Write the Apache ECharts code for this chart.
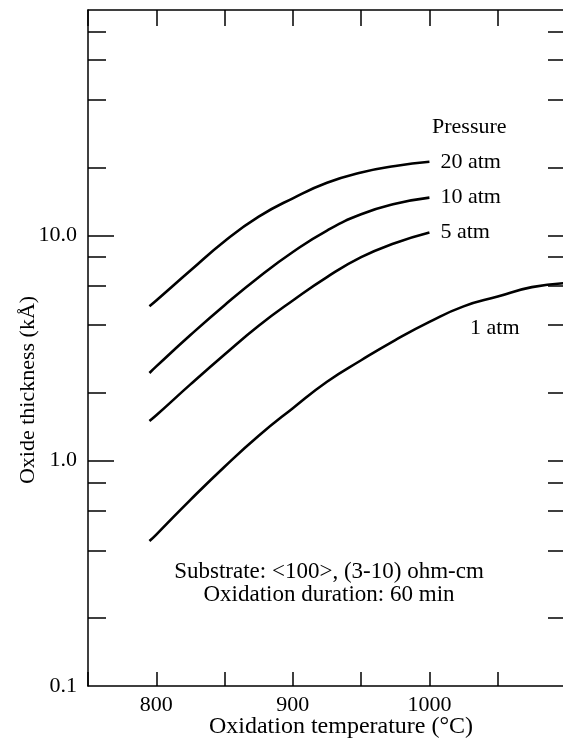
<!DOCTYPE html>
<html>
<head>
<meta charset="utf-8">
<script src="https://cdn.jsdelivr.net/npm/echarts@6/dist/echarts.min.js"></script>
<style>
  html, body { margin: 0; padding: 0; background: #fff; }
  #main { width: 563px; height: 739px; }
</style>
</head>
<body>
<div id="main"></div>
<script>
// temperatures (°C) where the curves were read
var temps = [795, 800, 825, 850, 875, 900, 925, 950, 975, 1000];
var tempsLong = [795, 800, 825, 850, 875, 900, 925, 950, 975, 1000, 1025, 1050, 1075, 1100];

// oxide thickness (kA) per pressure
var atm20 = [4.85, 5.14, 6.98, 9.42, 12.1, 14.6, 17.1, 19.0, 20.3, 21.2];
var atm10 = [2.45, 2.62, 3.61, 4.90, 6.52, 8.43, 10.5, 12.4, 13.8, 14.7];
var atm5 = [1.50, 1.59, 2.18, 2.96, 3.97, 5.14, 6.53, 8.0, 9.25, 10.3];
var atm1 = [0.44, 0.47, 0.67, 0.94, 1.29, 1.71, 2.24, 2.79, 3.43, 4.13, 4.84, 5.35, 5.89, 6.14];

// axis ticks
var xLabels = [800, 900, 1000];
var yMajor = [0.1, 1, 10];
var yMinor = [0.2, 0.4, 0.6, 0.8, 2, 4, 6, 8, 20, 40, 60, 80];
var yAll = [0.2, 0.4, 0.6, 0.8, 1, 2, 4, 6, 8, 10, 20, 40, 60, 80];

var font = 'Liberation Serif';

function pairs(xs, ys) {
    var rs = [];
    for (var i = 0; i < ys.length; i++) {
        rs.push([xs[i], ys[i]]);
    }
    return rs;
}

function curve(name, xs, ys, withLabel) {
    return {
        name: name,
        type: 'line',
        xAxisIndex: 0,
        yAxisIndex: 0,
        smooth: 0.5,
        showSymbol: false,
        lineStyle: { color: '#000', width: 2.6 },
        endLabel: {
            show: withLabel,
            formatter: '{a}',
            distance: 11,
            color: '#000',
            fontFamily: font,
            fontSize: 22
        },
        data: pairs(xs, ys)
    };
}

function txt(x, y, s, size, align, rot) {
    return {
        type: 'text',
        x: x,
        y: y,
        rotation: rot || 0,
        style: {
            text: s,
            fill: '#000',
            font: size + 'px "Liberation Serif"',
            align: align,
            verticalAlign: 'middle',
            lineHeight: 23
        }
    };
}

var chart = echarts.init(document.getElementById('main'));
chart.setOption({
    animation: false,
    backgroundColor: '#fff',
    grid: { left: 88, top: 10, right: -3, bottom: 53, containLabel: false, outerBoundsMode: 'none' },
    xAxis: [{
        type: 'value',
        position: 'bottom',
        min: 750,
        max: 1100,
        interval: 50,
        axisLine: { lineStyle: { color: '#000', width: 1.5 } },
        axisTick: { inside: true, length: 14, lineStyle: { color: '#000', width: 1.5 } },
        axisLabel: {
            color: '#000', fontFamily: font, fontSize: 22, margin: 8,
            formatter: function (v) { return xLabels.indexOf(v) >= 0 ? String(v) : ''; }
        },
        splitLine: { show: false }
    }, {
        type: 'value',
        position: 'top',
        min: 750,
        max: 1100,
        interval: 50,
        axisLine: { lineStyle: { color: '#000', width: 1.5 } },
        axisTick: { inside: true, length: 16, lineStyle: { color: '#000', width: 1.5 } },
        axisLabel: { show: false },
        splitLine: { show: false }
    }],
    yAxis: [{
        type: 'log',
        logBase: 10,
        position: 'left',
        min: 0.1,
        max: 100,
        axisLine: { lineStyle: { color: '#000', width: 1.5 } },
        axisTick: { inside: true, length: 26, customValues: [1, 10], lineStyle: { color: '#000', width: 1.5 } },
        axisLabel: {
            customValues: yMajor,
            color: '#000', fontFamily: font, fontSize: 22, margin: 11,
            formatter: function (v) { return Number(v).toFixed(1); }
        },
        splitLine: { show: false }
    }, {
        type: 'log',
        logBase: 10,
        position: 'left',
        min: 0.1,
        max: 100,
        axisLine: { show: false },
        axisTick: { inside: true, length: 18, customValues: yMinor, lineStyle: { color: '#000', width: 1.5 } },
        axisLabel: { show: false },
        splitLine: { show: false }
    }, {
        type: 'log',
        logBase: 10,
        position: 'right',
        min: 0.1,
        max: 100,
        axisLine: { lineStyle: { color: '#000', width: 1.5 } },
        axisTick: { inside: true, length: 18, customValues: yAll, lineStyle: { color: '#000', width: 1.5 } },
        axisLabel: { show: false },
        splitLine: { show: false }
    }],
    graphic: [
        txt(341, 727, 'Oxidation temperature (°C)', 24, 'center'),
        txt(28, 390, 'Oxide thickness (kÅ)', 22, 'center', Math.PI / 2),
        txt(432, 127, 'Pressure', 22, 'left'),
        txt(470, 328, '1 atm', 22, 'left'),
        txt(329, 583, 'Substrate: <100>, (3-10) ohm-cm\nOxidation duration: 60 min', 23, 'center')
    ],
    series: [
        curve('20 atm', temps, atm20, true),
        curve('10 atm', temps, atm10, true),
        curve('5 atm', temps, atm5, true),
        curve('1 atm', tempsLong, atm1, false)
    ]
});
</script>
</body>
</html>
